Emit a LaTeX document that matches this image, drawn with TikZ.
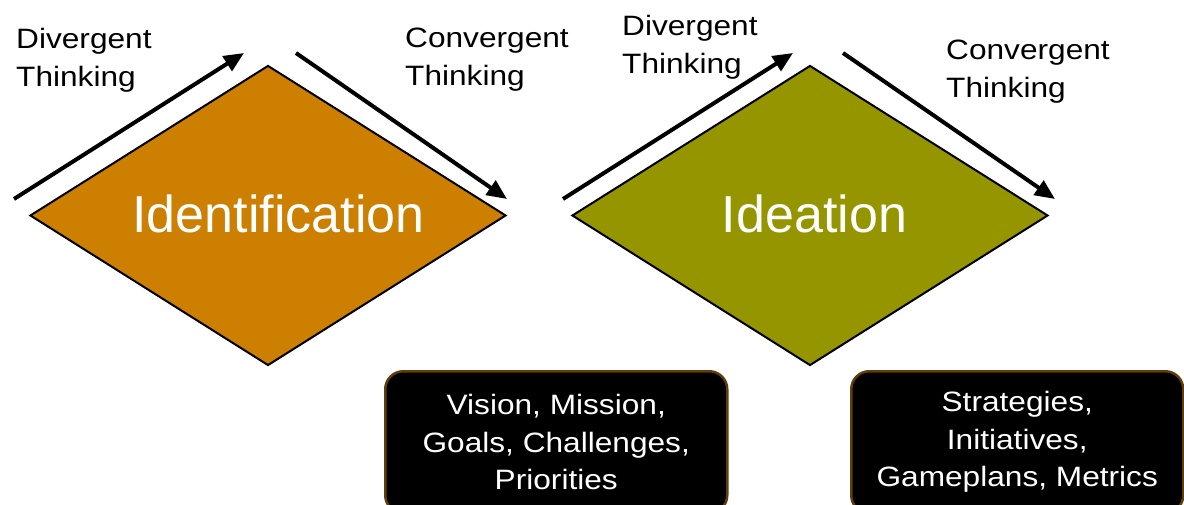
\documentclass[tikz,border=0pt]{standalone}
\usepackage{fontspec}
\setmainfont{Liberation Sans}
\newfontfamily\widesans[FakeStretch=1.13]{Liberation Sans}
\usetikzlibrary{shapes.geometric,arrows.meta}
\definecolor{idorange}{RGB}{204,127,0}
\definecolor{idolive}{RGB}{149,149,0}
\definecolor{boxbrown}{RGB}{96,62,12}
\tikzset{
  phase/.style={diamond, draw=black, line width=2pt, inner sep=0pt,
    minimum width=476pt, minimum height=300pt},
  phaselabel/.style={text=white, font=\fontsize{52}{60}\selectfont, inner sep=0pt, anchor=base},
  think/.style={align=left, anchor=north west, inner sep=0pt,
    font=\widesans\fontsize{28}{38}\selectfont},
  flow/.style={line width=4pt, -{Triangle[length=20pt,width=17pt]}},
  outbox/.style={rounded corners=18pt, fill=black, draw=boxbrown, line width=2.5pt,
    text=white, align=center, minimum height=142pt, inner sep=0pt,
    font=\widesans\fontsize{28}{37.5}\selectfont}
}
\begin{document}
\begin{tikzpicture}[x=1pt,y=-1pt]
\useasboundingbox (0,0) rectangle (1184,505);
% diamonds
\node[phase, fill=idorange] (d1) at (268,215.5) {};
\node[phase, fill=idolive] (d2) at (810,215.5) {};
\node[phaselabel] (l1) at (278.5,233) {Identification};
\node[phaselabel] (l2) at (814.5,233) {Ideation};
% arrows
\coordinate (a1s) at (14,199);
\coordinate (a1e) at (244,53);
\coordinate (c1s) at (296,53);
\coordinate (c1e) at (507,199);
\coordinate (a2s) at (563,199);
\coordinate (a2e) at (793,53);
\coordinate (c2s) at (843,53);
\coordinate (c2e) at (1055,199);
\draw[flow] (a1s) -- (a1e);
\draw[flow] (c1s) -- (c1e);
\draw[flow] (a2s) -- (a2e);
\draw[flow] (c2s) -- (c2e);
% labels
\node[think] (t1) at (16,28) {Divergent\\Thinking};
\node[think] (t2) at (405,28) {Convergent\\Thinking};
\node[think] (t3) at (622,15) {Divergent\\Thinking};
\node[think] (t4) at (946,40) {Convergent\\Thinking};
% boxes
\node[outbox, minimum width=342pt, anchor=north west] (b1) at (384,370)
  {Vision, Mission,\\Goals, Challenges,\\Priorities};
\node[outbox, minimum width=332pt, anchor=north west] (b2) at (850,370)
  {Strategies,\\Initiatives,\\Gameplans, Metrics};
\end{tikzpicture}
\end{document}
